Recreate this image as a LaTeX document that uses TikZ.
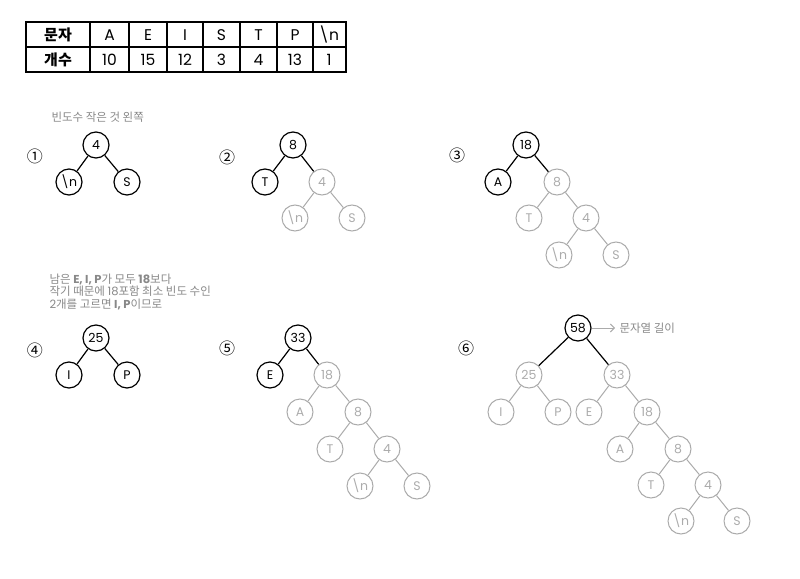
\documentclass[tikz,border=0pt]{standalone}
\usepackage{fontspec}
\usepackage{xcolor}
\setmainfont{Poppins}
\newfontfamily\kr{Noto Sans CJK KR}
\usetikzlibrary{arrows.meta}
\definecolor{nodegray}{HTML}{ABABAB}
\definecolor{notegray}{HTML}{888888}

\begin{document}
\begin{tikzpicture}[
  x=1pt, y=-1pt,
  every node/.style = {font=\fontsize{12.5}{14}\selectfont},
  hnode/.style = {circle, draw, line width=1.2pt, minimum size=26pt, inner sep=0pt},
  gnode/.style = {hnode, draw=nodegray, text=nodegray, line width=1pt},
  hedge/.style = {line width=1.2pt},
  gedge/.style = {line width=1pt, draw=nodegray},
  stepnum/.style = {font=\kr\fontsize{16}{16}\selectfont},
  note/.style = {font=\fontsize{11.5}{12.7}\selectfont, text=notegray, align=left, anchor=west},
  cell/.style = {font=\fontsize{15.5}{17}\selectfont},
  headcell/.style = {font=\kr\bfseries\fontsize{15}{17}\selectfont},
  >={Straight Barb[length=4pt]}
]
  \useasboundingbox (0,0) rectangle (800,578);

  % frequency table
  \draw[line width=1.8pt] (26,22) rectangle (346,72);
  \draw[line width=1.8pt] (26,47) -- (346,47);
  \foreach \cx in {90,129,167,203,240,277,313}
    \draw[line width=1.8pt] (\cx,22) -- (\cx,72);

  \node[headcell] (hchar) at (58,35) {문자};
  \node[headcell] (hcount) at (58,60) {개수};
  \node[cell] (cA) at (109.5,35) {A};
  \node[cell] (cE) at (148,35) {E};
  \node[cell] (cI) at (185,35) {I};
  \node[cell] (cS) at (221.5,35) {S};
  \node[cell] (cT) at (258.5,35) {T};
  \node[cell] (cP) at (295,35) {P};
  \node[cell] (cN) at (329,35) {\textbackslash n};
  \node[cell] (nA) at (109.5,60) {10};
  \node[cell] (nE) at (148,60) {15};
  \node[cell] (nI) at (185,60) {12};
  \node[cell] (nS) at (221.5,60) {3};
  \node[cell] (nT) at (258.5,60) {4};
  \node[cell] (nP) at (295,60) {13};
  \node[cell] (nN) at (329,60) {1};

  % step 1
  \node[note] (rule) at (48,117) {{\kr 빈도수 작은 것 왼쪽}};
  \node[stepnum] (s1) at (35,156) {①};
  \node[hnode] (a4) at (96,145) {4};
  \node[hnode] (aN) at (69,182) {\textbackslash n};
  \node[hnode] (aS) at (127,182) {S};
  \draw[hedge] (a4) -- (aN);
  \draw[hedge] (a4) -- (aS);

  % step 2
  \node[stepnum] (s2) at (227,157) {②};
  \node[hnode] (b8) at (293,145) {8};
  \node[hnode] (bT) at (265,182) {T};
  \node[gnode] (b4) at (322,182) {4};
  \node[gnode] (bN) at (295,218) {\textbackslash n};
  \node[gnode] (bS) at (352,218) {S};
  \draw[hedge] (b8) -- (bT);
  \draw[hedge] (b8) -- (b4);
  \draw[gedge] (b4) -- (bN);
  \draw[gedge] (b4) -- (bS);

  % step 3
  \node[stepnum] (s3) at (457,155) {③};
  \node[hnode] (c18) at (526,145) {18};
  \node[hnode] (cAl) at (498,182) {A};
  \node[gnode] (c8) at (557,182) {8};
  \node[gnode] (cTl) at (529,218) {T};
  \node[gnode] (c4) at (586,218) {4};
  \node[gnode] (cNl) at (559,255) {\textbackslash n};
  \node[gnode] (cSl) at (616,255) {S};
  \draw[hedge] (c18) -- (cAl);
  \draw[hedge] (c18) -- (c8);
  \draw[gedge] (c8) -- (cTl);
  \draw[gedge] (c8) -- (c4);
  \draw[gedge] (c4) -- (cNl);
  \draw[gedge] (c4) -- (cSl);

  % step 4
  \node[note, anchor=north west] (why) at (46,270) {{\kr 남은 }\textbf{E, I, P}{\kr 가 모두 }\textbf{18}{\kr 보다}\\
    {\kr 작기 때문에 }18{\kr 포함 최소 빈도 수인}\\
    2{\kr 개를 고르면 }\textbf{I, P}{\kr 이므로}};
  \node[stepnum] (s4) at (35,350) {④};
  \node[hnode] (d25) at (96,338) {25};
  \node[hnode] (dI) at (69,375) {I};
  \node[hnode] (dP) at (127,375) {P};
  \draw[hedge] (d25) -- (dI);
  \draw[hedge] (d25) -- (dP);

  % step 5
  \node[stepnum] (s5) at (227,348) {⑤};
  \node[hnode] (e33) at (298,338) {33};
  \node[hnode] (eE) at (270,375) {E};
  \node[gnode] (e18) at (327,375) {18};
  \node[gnode] (eA) at (300,412) {A};
  \node[gnode] (e8) at (358,412) {8};
  \node[gnode] (eT) at (330,449) {T};
  \node[gnode] (e4) at (387,449) {4};
  \node[gnode] (eN) at (360,486) {\textbackslash n};
  \node[gnode] (eS) at (417,486) {S};
  \draw[hedge] (e33) -- (eE);
  \draw[hedge] (e33) -- (e18);
  \draw[gedge] (e18) -- (eA);
  \draw[gedge] (e18) -- (e8);
  \draw[gedge] (e8) -- (eT);
  \draw[gedge] (e8) -- (e4);
  \draw[gedge] (e4) -- (eN);
  \draw[gedge] (e4) -- (eS);

  % step 6
  \node[stepnum] (s6) at (466,348) {⑥};
  \node[hnode] (f58) at (578,328) {58};
  \node[note, font=\kr\fontsize{11.5}{12.7}\selectfont] (len) at (616,328) {문자열 길이};
  \draw[gedge, ->, shorten >=1pt] (f58) -- (len);
  \node[gnode] (f25) at (529,375) {25};
  \node[gnode] (f33) at (617,375) {33};
  \node[gnode] (fI) at (501,412) {I};
  \node[gnode] (fP) at (558,412) {P};
  \node[gnode] (fE) at (589,412) {E};
  \node[gnode] (f18) at (647,412) {18};
  \node[gnode] (fA) at (620,449) {A};
  \node[gnode] (f8) at (678,449) {8};
  \node[gnode] (fT) at (651,485) {T};
  \node[gnode] (f4) at (708,485) {4};
  \node[gnode] (fN) at (681,521) {\textbackslash n};
  \node[gnode] (fS) at (737,521) {S};
  \draw[hedge] (f58) -- (f25);
  \draw[hedge] (f58) -- (f33);
  \draw[gedge] (f25) -- (fI);
  \draw[gedge] (f25) -- (fP);
  \draw[gedge] (f33) -- (fE);
  \draw[gedge] (f33) -- (f18);
  \draw[gedge] (f18) -- (fA);
  \draw[gedge] (f18) -- (f8);
  \draw[gedge] (f8) -- (fT);
  \draw[gedge] (f8) -- (f4);
  \draw[gedge] (f4) -- (fN);
  \draw[gedge] (f4) -- (fS);
\end{tikzpicture}
\end{document}
